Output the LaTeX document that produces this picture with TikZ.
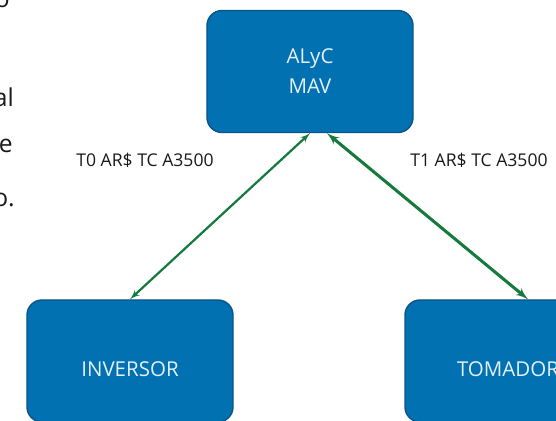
\documentclass[tikz,border=0pt]{standalone}
\usepackage{fontspec}
\setmainfont{Open Sans}
\usepackage{tikz}
\usetikzlibrary{%
   arrows,%
   calc,%
   positioning}
\definecolor{boxfill}{RGB}{1,113,178}
\definecolor{boxline}{RGB}{10,85,135}
\definecolor{boxtext}{RGB}{228,240,250}
\definecolor{flecha}{RGB}{22,122,62}
\definecolor{texto}{RGB}{25,25,25}

\begin{document}
\begin{tikzpicture}
[x=0.3mm, y=-0.3mm,
 box/.style={draw=boxline, fill=boxfill, line width=1.2pt, rounded corners=4.5mm, minimum width=61.8mm, minimum height=36.6mm, text=boxtext, font=\fontsize{17.5}{25.5}\selectfont, align=center, execute at begin node={\rule{0pt}{9.6mm}}},
 etiq/.style={font=\fontsize{15}{17}\selectfont, text=texto},
 frag/.style={font=\fontsize{21}{25}\selectfont, text=texto, anchor=base east, inner sep=0pt},
 pfeil/.style={latex'-latex', draw=flecha, line width=1.9pt}]
\useasboundingbox (0,0) rectangle (556,421);
\clip (0,0) rectangle (556,421);
% text cut off at the left edge
\node (fraga) [frag] at (10,8) {o};
\node (fragb) [frag] at (14,107) {al};
\node (fragc) [frag] at (13,153) {e};
\node (fragd) [frag] at (15,207) {o.};
% boxes
\node (alyc) [box] at (310,71.5) {ALyC\\MAV};
\node (inversor) [box] at (130,361) {INVERSOR};
\node (tomador) [box] at (508,361) {TOMADOR};
% labels
\node (tcero) [etiq] at (145,160) {T0 AR\$ TC A3500};
\node (tuno) [etiq] at (479,160) {T1 AR\$ TC A3500};
% arrows
\draw[pfeil] (inversor.north) -- (alyc.south);
\draw[pfeil, line width=2.6pt] ([xshift=5.1mm]alyc.south) -- ([xshift=6mm]tomador.north);
\end{tikzpicture}
\end{document}
